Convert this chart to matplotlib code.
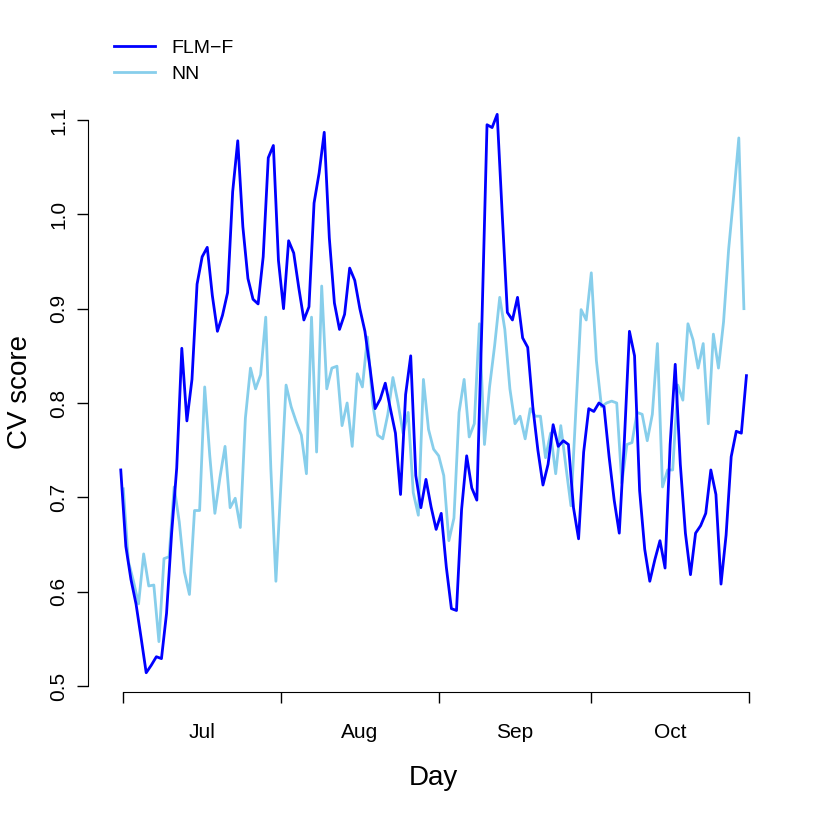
import numpy as np
import matplotlib
matplotlib.use("Agg")
import matplotlib.pyplot as plt

plt.rcParams["font.family"] = ["Liberation Sans", "DejaVu Sans"]

# daily CV scores, FLM-F from Jul 1, NN half a day later
flm_f = [0.729, 0.648, 0.613, 0.587, 0.551, 0.514, 0.522, 0.531, 0.529, 0.577,
         0.662, 0.731, 0.858, 0.781, 0.825, 0.926, 0.955, 0.965, 0.914, 0.876,
         0.893, 0.917, 1.024, 1.078, 0.987, 0.932, 0.910, 0.905, 0.955, 1.060,
         1.073, 0.951, 0.900, 0.972, 0.959, 0.922, 0.888, 0.902, 1.012, 1.044,
         1.087, 0.975, 0.906, 0.878, 0.894, 0.943, 0.930, 0.900, 0.876, 0.837,
         0.794, 0.804, 0.821, 0.794, 0.768, 0.703, 0.809, 0.850, 0.723, 0.689,
         0.719, 0.690, 0.666, 0.683, 0.626, 0.582, 0.580, 0.687, 0.744, 0.710,
         0.697, 0.886, 1.095, 1.092, 1.106, 0.999, 0.896, 0.888, 0.912, 0.869,
         0.859, 0.796, 0.750, 0.713, 0.735, 0.777, 0.754, 0.760, 0.756, 0.689,
         0.656, 0.748, 0.794, 0.791, 0.800, 0.796, 0.743, 0.697, 0.662, 0.760,
         0.876, 0.850, 0.707, 0.645, 0.611, 0.634, 0.654, 0.625, 0.756, 0.841,
         0.735, 0.662, 0.618, 0.662, 0.670, 0.683, 0.729, 0.703, 0.608, 0.660,
         0.743, 0.770, 0.768, 0.829]

nn = [0.709, 0.632, 0.611, 0.587, 0.640, 0.606, 0.607, 0.547, 0.635, 0.637,
      0.711, 0.674, 0.621, 0.597, 0.686, 0.686, 0.817, 0.744, 0.683, 0.721,
      0.754, 0.689, 0.699, 0.668, 0.784, 0.837, 0.815, 0.830, 0.891, 0.731,
      0.611, 0.715, 0.819, 0.796, 0.780, 0.766, 0.725, 0.891, 0.748, 0.924,
      0.815, 0.837, 0.839, 0.776, 0.800, 0.754, 0.831, 0.817, 0.870, 0.800,
      0.766, 0.762, 0.788, 0.827, 0.800, 0.768, 0.790, 0.705, 0.681, 0.825,
      0.772, 0.751, 0.744, 0.723, 0.654, 0.678, 0.790, 0.825, 0.764, 0.778,
      0.884, 0.756, 0.817, 0.861, 0.912, 0.878, 0.815, 0.778, 0.786, 0.762,
      0.794, 0.786, 0.786, 0.742, 0.768, 0.725, 0.776, 0.733, 0.691, 0.796,
      0.899, 0.888, 0.938, 0.845, 0.796, 0.800, 0.802, 0.800, 0.715, 0.756,
      0.758, 0.790, 0.788, 0.760, 0.788, 0.863, 0.711, 0.729, 0.729, 0.819,
      0.803, 0.884, 0.867, 0.837, 0.863, 0.778, 0.873, 0.837, 0.886, 0.963,
      1.020, 1.081, 0.900]

month_edges = [0.5, 31.5, 62.5, 92.5, 123.5]
month_labels = ["Jul", "Aug", "Sep", "Oct"]
y_ticks = [0.5, 0.6, 0.7, 0.8, 0.9, 1.0, 1.1]

fig = plt.figure(figsize=(8.17, 8.17), dpi=100)
ax = fig.add_axes([88 / 817, 1 - 692 / 817, 691 / 817, 600 / 817])

x_flm = np.arange(len(flm_f))
x_nn = np.arange(len(nn)) + 0.5
ax.plot(x_nn, nn, color="skyblue", lw=2.0, label="NN")
ax.plot(x_flm, flm_f, color="blue", lw=2.0, label="FLM\u2212F")

ax.set_xlim(-6.44, 129.4)
ax.set_ylim(0.4936, 1.1297)

# R-like axes: spines only over the tick range
for s in ["top", "right"]:
    ax.spines[s].set_visible(False)
ax.spines["left"].set_bounds(0.5, 1.1)
ax.spines["bottom"].set_bounds(month_edges[0], month_edges[-1])

ax.set_yticks(y_ticks)
ax.set_yticklabels([f"{t:.1f}" for t in y_ticks], rotation=90, va="center")
ax.set_xticks(month_edges)
ax.set_xticklabels([])
mids = [(a + b) / 2 for a, b in zip(month_edges[:-1], month_edges[1:])]
ax.set_xticks(mids, minor=True)
ax.set_xticklabels(month_labels, minor=True)
ax.tick_params(axis="both", which="major", length=8, width=1, labelsize=15)
ax.tick_params(axis="x", which="minor", length=0, labelsize=15, pad=22)
ax.tick_params(axis="y", pad=6)

ax.set_xlabel("Day", fontsize=20, labelpad=17)
ax.set_ylabel("CV score", fontsize=20, labelpad=12)

h, l = ax.get_legend_handles_labels()
ax.legend(h[::-1], l[::-1], loc="upper left", bbox_to_anchor=(114 / 817, 1 - 39 / 817),
          bbox_transform=fig.transFigure, frameon=False, fontsize=14,
          handlelength=2.1, handletextpad=0.85, labelspacing=0.45,
          borderpad=0, borderaxespad=0)

fig.savefig("out.png", dpi=100)
